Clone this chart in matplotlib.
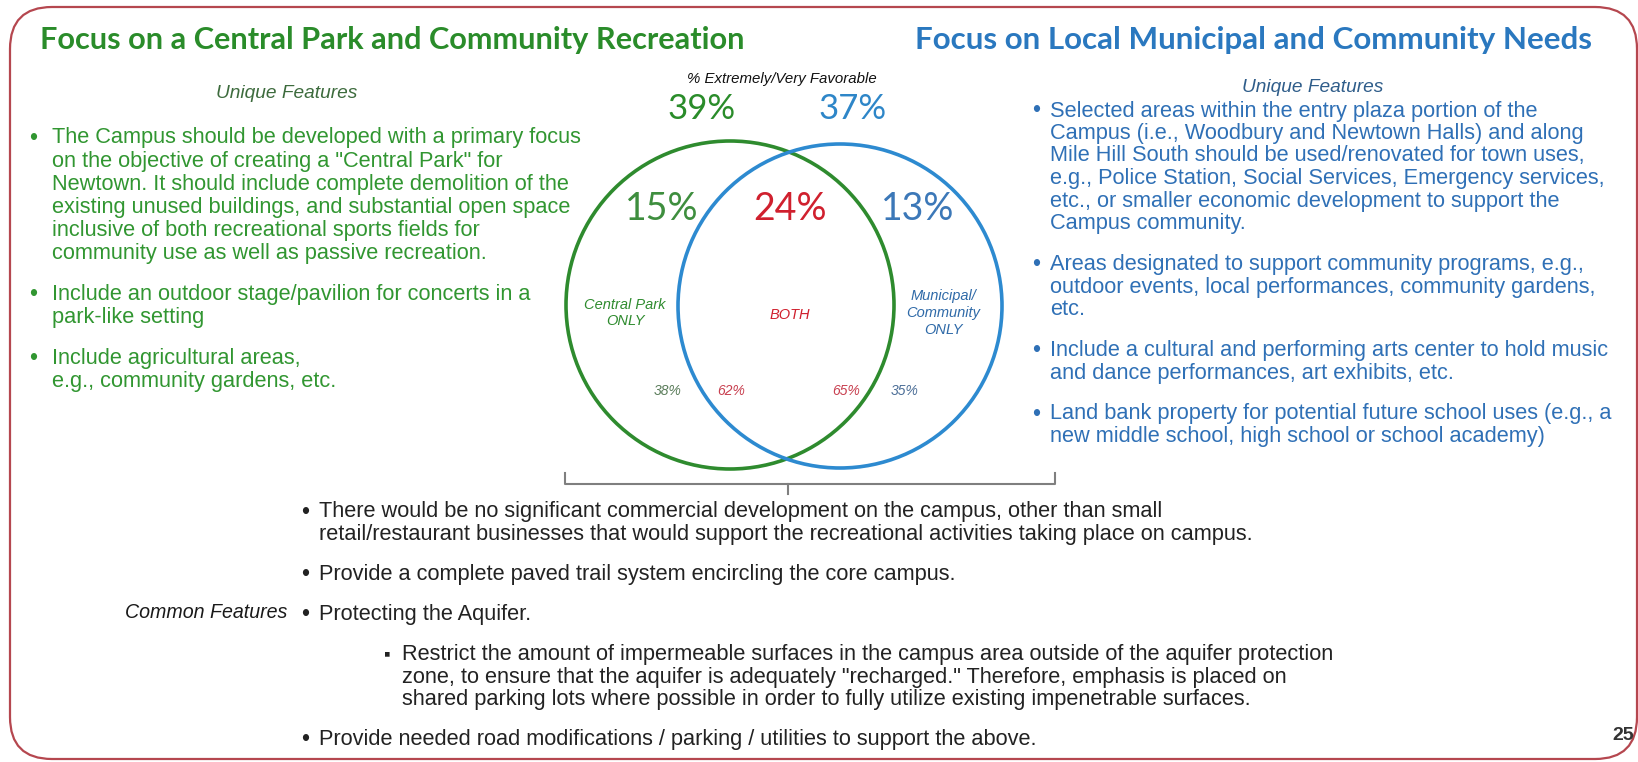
import matplotlib
matplotlib.use("Agg")
import matplotlib.pyplot as plt
import matplotlib.patches as mpatches
from matplotlib.font_manager import FontProperties, findfont
from matplotlib.textpath import TextPath

W, H = 1638, 762
PX_PER_PT = 100 / 72

# ---- data ----
headline_left = "Focus on a Central Park and Community Recreation"
headline_right = "Focus on Local Municipal and Community Needs"
metric_label = "% Extremely/Very Favorable"
region_names = ["Central Park\nONLY", "BOTH", "Municipal/\nCommunity\nONLY"]
set_totals = [39, 37]            # favorable, park concept / municipal concept
region_values = [15, 24, 13]     # park only / both / municipal only
split_values = [38, 62, 65, 35]  # park: only, both | municipal: both, only

left_bullets = [
    ["The Campus should be developed with a primary focus",
     'on the objective of creating a "Central Park" for',
     "Newtown. It should include complete demolition of the",
     "existing unused buildings, and substantial open space",
     "inclusive of both recreational sports fields for",
     "community use as well as passive recreation."],
    ["Include an outdoor stage/pavilion for concerts in a",
     "park-like setting"],
    ["Include agricultural areas,",
     "e.g., community gardens, etc."],
]
right_bullets = [
    ["Selected areas within the entry plaza portion of the",
     "Campus (i.e., Woodbury and Newtown Halls) and along",
     "Mile Hill South should be used/renovated for town uses,",
     "e.g., Police Station, Social Services, Emergency services,",
     "etc., or smaller economic development to support the",
     "Campus community."],
    ["Areas designated to support community programs, e.g.,",
     "outdoor events, local performances, community gardens,",
     "etc."],
    ["Include a cultural and performing arts center to hold music",
     "and dance performances, art exhibits, etc."],
    ["Land bank property for potential future school uses (e.g., a",
     "new middle school, high school or school academy)"],
]
common_bullets = [
    (0, ["There would be no significant commercial development on the campus, other than small",
         "retail/restaurant businesses that would support the recreational activities taking place on campus."]),
    (0, ["Provide a complete paved trail system encircling the core campus."]),
    (0, ["Protecting the Aquifer."]),
    (1, ["Restrict the amount of impermeable surfaces in the campus area outside of the aquifer protection",
         'zone, to ensure that the aquifer is adequately "recharged." Therefore, emphasis is placed on',
         "shared parking lots where possible in order to fully utilize existing impenetrable surfaces."]),
    (0, ["Provide needed road modifications / parking / utilities to support the above."]),
]

GREEN_HEAD = "#2a8c2a"
GREEN_TEXT = "#319631"
BLUE_HEAD = "#2a78bf"
BLUE_TEXT = "#2f70b6"
GREEN_RING = "#2e8b2e"
BLUE_RING = "#2d8ad0"
RED = "#d0202e"


def has_font(name):
    try:
        findfont(FontProperties(family=name), fallback_to_default=False)
        return True
    except ValueError:
        return False


BODY = "Liberation Sans Narrow" if has_font("Liberation Sans Narrow") else "Liberation Sans"
HEAD = "Lato"


def fit_size(text, target_px, **kw):
    w = TextPath((0, 0), text, size=100, prop=FontProperties(**kw)).get_extents().width
    return target_px / PX_PER_PT * 100 / w


def bullet_block(ax, x_dot, x_text, y0, pitch, gap, bullets, color, size, sub_indent=0):
    y = y0
    for item in bullets:
        level, lines = item if isinstance(item, tuple) else (0, item)
        dx = sub_indent * level
        mark = "▪" if level else "•"
        ax.text(x_dot + dx, y, mark, color=color, fontsize=size * (0.85 if level else 1.05),
                family=[BODY, "DejaVu Sans"], va="center", ha="left")
        for line in lines:
            ax.text(x_text + dx, y, line, color=color, fontsize=size,
                    family=BODY, va="center", ha="left")
            y += pitch
        y += gap


fig = plt.figure(figsize=(W / 100, H / 100), dpi=100)
fig.patch.set_facecolor("white")
ax = fig.add_axes([0, 0, 1, 1])
ax.set_xlim(0, W)
ax.set_ylim(H, 0)
ax.axis("off")

# slide frame
ax.add_patch(mpatches.FancyBboxPatch((10, 7), 1627, 752,
                                     boxstyle="round,pad=0,rounding_size=42",
                                     fill=False, ec="#b5474f", lw=1.6, clip_on=False))

# headlines
ax.text(40, 40, headline_left, color=GREEN_HEAD,
        fontsize=fit_size(headline_left, 702, family=HEAD, weight="bold"),
        family=HEAD, weight="bold", va="center", ha="left")
ax.text(915, 40, headline_right, color=BLUE_HEAD,
        fontsize=fit_size(headline_right, 675, family=HEAD, weight="bold"),
        family=HEAD, weight="bold", va="center", ha="left")

body_size = fit_size(common_bullets[0][1][0], 846, family=BODY)

# sub headings
ax.text(287, 94, "Unique Features", color="#3d6b3d", fontsize=body_size * 0.88,
        family=BODY, style="italic", va="center", ha="center")
ax.text(1313, 88, "Unique Features", color="#2f5d8a", fontsize=body_size * 0.88,
        family=BODY, style="italic", va="center", ha="center")
ax.text(125, 613, "Common Features", color="#1a1a1a", fontsize=body_size * 0.9,
        family=BODY, style="italic", va="center", ha="left")

# bullet text
bullet_block(ax, 29, 52, 138, 23.2, 17.5, left_bullets, GREEN_TEXT, body_size)
bullet_block(ax, 1032, 1050, 111, 22.5, 18.5, right_bullets, BLUE_TEXT, body_size)
bullet_block(ax, 301, 319, 512, 22.5, 17.5, common_bullets, "#222222", body_size,
             sub_indent=83)

# venn
ax.add_patch(mpatches.Circle((730, 305), 164, fill=False, ec=GREEN_RING, lw=2.6))
ax.add_patch(mpatches.Circle((840, 306), 162, fill=False, ec=BLUE_RING, lw=2.6))

ax.text(782, 79, metric_label, color="#111111", fontsize=10.8,
        family="Liberation Sans", style="italic", va="center", ha="center")
for x, v, c in zip([702, 853], set_totals, [GREEN_HEAD, "#2e86c8"]):
    ax.text(x, 109, f"{v}%", color=c, fontsize=25, family=HEAD,
            va="center", ha="center")
for x, v, c in zip([662, 790, 918], region_values, ["#3e8e3e", RED, "#3c78b8"]):
    ax.text(x, 209, f"{v}%", color=c, fontsize=27, family=HEAD,
            va="center", ha="center")
for x, y, s, c in zip([625, 790, 943], [313, 315, 313], region_names,
                      [GREEN_RING, RED, "#2f6aa8"]):
    ax.text(x, y, s, color=c, fontsize=10.5, family="Liberation Sans",
            style="italic", va="center", ha="center", linespacing=1.25)
for x, v, c in zip([668, 731, 846, 905], split_values,
                   ["#5b7d5b", "#c84050", "#c84050", "#4d6f98"]):
    ax.text(x, 391, f"{v}%", color=c, fontsize=10, family="Liberation Sans",
            style="italic", va="center", ha="center")

# brace under the venn
ax.plot([565, 565, 1055, 1055], [473, 484, 484, 473], color="#7f7f7f", lw=1.5)
ax.plot([788, 788], [484, 494], color="#7f7f7f", lw=1.5)

# page number
ax.text(1623, 736, "25", color="#333333", fontsize=14, family="Liberation Sans",
        weight="bold", va="center", ha="center")

fig.savefig("out.png", dpi=100, facecolor="white")
